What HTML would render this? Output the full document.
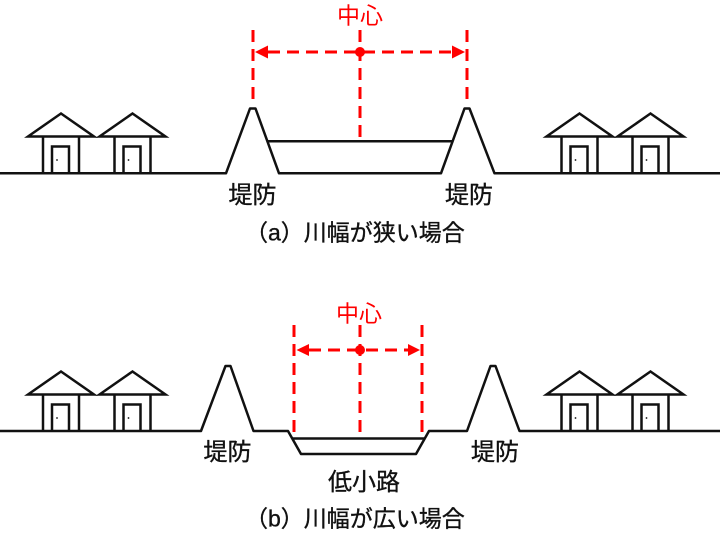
<!DOCTYPE html>
<html>
<head>
<meta charset="utf-8">
<style>
  html,body{margin:0;padding:0;background:#fff;}
  svg{display:block;}
  text{font-family:"Liberation Sans","Noto Sans CJK JP",sans-serif;}
</style>
</head>
<body>
<svg width="720" height="533" viewBox="0 0 720 533" xmlns="http://www.w3.org/2000/svg">
  <rect width="720" height="533" fill="#fff"/>
  <defs>
    <g id="house" fill="none" stroke="#111" stroke-width="2.5" stroke-linejoin="miter">
      <polygon points="28,136.5 61,113.5 94,136.5"/>
      <line x1="43" y1="136.5" x2="43" y2="173.3"/>
      <line x1="79" y1="136.5" x2="79" y2="173.3"/>
      <polyline points="52,173.3 52,146.5 69,146.5 69,173.3"/>
      <circle cx="57" cy="160" r="0.9" fill="#111" stroke="none"/>
    </g>
  </defs>

  <!-- ============ (a) ============ -->
  <use href="#house" x="0" y="0"/>
  <use href="#house" x="71.5" y="0"/>
  <use href="#house" x="518.5" y="0"/>
  <use href="#house" x="589.5" y="0"/>

  <g fill="none" stroke="#111" stroke-width="2.5" stroke-linejoin="round">
    <polyline points="0,173.3 226,173.3 250,108.5 255.5,108.5 279,173.3 441,173.3 464.5,108.5 469.5,108.5 494.5,173.3 720,173.3"/>
    <line x1="268" y1="141.3" x2="453" y2="141.3"/>
  </g>

  <g stroke="#ff0000" stroke-width="3" stroke-dasharray="12 7" fill="none">
    <line x1="253" y1="30" x2="253" y2="101"/>
    <line x1="467" y1="30" x2="467" y2="101"/>
    <line x1="360" y1="30" x2="360" y2="140"/>
    <line x1="268" y1="52" x2="452" y2="52"/>
  </g>
  <g fill="#ff0000">
    <polygon points="255,52 268,45.5 268,58.5"/>
    <polygon points="465,52 452,45.5 452,58.5"/>
    <circle cx="360" cy="52" r="5"/>
  </g>

  <text x="360" y="23.5" font-size="23" fill="#ff0000" text-anchor="middle">中心</text>
  <g fill="#111" stroke="#111" stroke-width="0.35">
    <text x="252.5" y="203" font-size="24" text-anchor="middle">堤防</text>
    <text x="469" y="203" font-size="24" text-anchor="middle">堤防</text>
    <text x="245" y="240.5" font-size="23">（a）川幅が狭い場合</text>
  </g>

  <!-- ============ (b) ============ -->
  <use href="#house" x="0" y="258"/>
  <use href="#house" x="71.5" y="258"/>
  <use href="#house" x="518.5" y="258"/>
  <use href="#house" x="589.5" y="258"/>

  <g fill="none" stroke="#111" stroke-width="2.5" stroke-linejoin="round">
    <polyline points="0,431 201,431 225.5,366 230.5,366 253.5,431 288,431 301,454 416,454 429,431 467,431 490.5,366 495.5,366 519.5,431 720,431"/>
    <line x1="292.5" y1="438.5" x2="425" y2="438.5"/>
  </g>

  <g stroke="#ff0000" stroke-width="3" stroke-dasharray="12 7" fill="none">
    <line x1="294" y1="325" x2="294" y2="438"/>
    <line x1="422" y1="325" x2="422" y2="438"/>
    <line x1="360" y1="325" x2="360" y2="438"/>
    <line x1="309" y1="350" x2="408" y2="350"/>
  </g>
  <g fill="#ff0000">
    <polygon points="296.5,350 309,344 309,356"/>
    <polygon points="420,350 408,344 408,356"/>
    <circle cx="360" cy="350" r="5"/>
  </g>

  <text x="359" y="321.5" font-size="23" fill="#ff0000" text-anchor="middle">中心</text>
  <g fill="#111" stroke="#111" stroke-width="0.35">
    <text x="227.5" y="460" font-size="24" text-anchor="middle">堤防</text>
    <text x="495" y="460" font-size="24" text-anchor="middle">堤防</text>
    <text x="364" y="490" font-size="24" text-anchor="middle">低小路</text>
    <text x="245" y="526.5" font-size="23">（b）川幅が広い場合</text>
  </g>
</svg>
</body>
</html>
